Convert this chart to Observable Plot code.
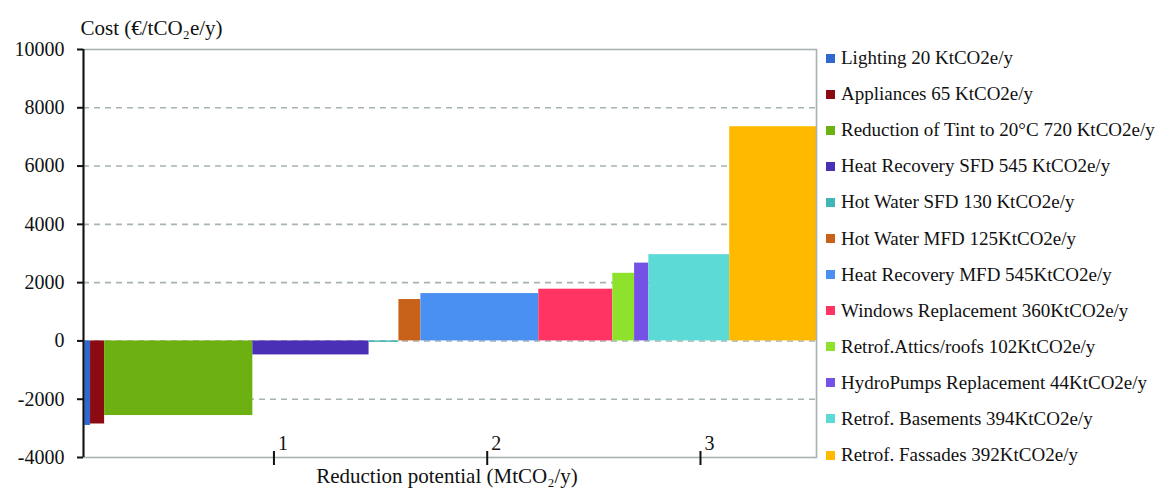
<!DOCTYPE html>
<html>
<head>
<meta charset="utf-8">
<script src="https://cdn.jsdelivr.net/npm/d3@7"></script>
<script src="https://cdn.jsdelivr.net/npm/@observablehq/plot@0.6"></script>
<style>
  html, body { margin: 0; padding: 0; background: #fff; }
  #wrap { position: relative; width: 1166px; height: 495px; font-family: "Liberation Serif", "DejaVu Serif", serif; }
  #chart svg { font-family: "Liberation Serif", "DejaVu Serif", serif !important; }
  #legend { position: absolute; left: 826px; top: 40px; }
  .row { height: 36.1px; display: flex; align-items: center; font-size: 19px; color: #111; white-space: nowrap; }
  .sw { width: 9px; height: 9px; margin-right: 6px; flex: none; }
</style>
</head>
<body>
<div id="wrap"><div id="chart"></div><div id="legend"></div></div>
<script>
// Measures, in drawing order
const measures = [
  "Lighting", "Appliances", "Reduction of Tint to 20°C", "Heat Recovery SFD",
  "Hot Water SFD", "Hot Water MFD", "Heat Recovery MFD", "Windows Replacement",
  "Retrof.Attics/roofs", "HydroPumps Replacement", "Retrof. Basements", "Retrof. Fassades"
];
// Legend labels as printed
const legendLabels = [
  "Lighting 20 KtCO2e/y", "Appliances 65 KtCO2e/y", "Reduction of Tint to 20°C 720 KtCO2e/y",
  "Heat Recovery SFD 545 KtCO2e/y", "Hot Water SFD  130 KtCO2e/y", "Hot Water MFD 125KtCO2e/y",
  "Heat Recovery MFD 545KtCO2e/y", "Windows Replacement 360KtCO2e/y", "Retrof.Attics/roofs 102KtCO2e/y",
  "HydroPumps Replacement 44KtCO2e/y", "Retrof. Basements 394KtCO2e/y", "Retrof. Fassades 392KtCO2e/y"
];
// Bar widths as drawn in the picture (MtCO2/y)
const widthMt = [0.033, 0.066, 0.695, 0.545, 0.140, 0.103, 0.553, 0.347, 0.102, 0.067, 0.379, 0.407];
// Cost (€/tCO2e/y) -> bar heights
const cost = [-2900, -2850, -2560, -480, -50, 1420, 1625, 1775, 2320, 2670, 2960, 7350];
const colors = ["#3168d0", "#8c0a12", "#6cb012", "#4a30b4", "#40b6b8", "#c8621a",
                "#4a90f2", "#ff3462", "#8ee22c", "#7452e6", "#5cdad6", "#ffba00"];
// Axis
const xOriginMt = 0.107;          // where the curve starts on the drawn x axis
const xTicks = [1, 2, 3];
const yTicks = [-4000, -2000, 0, 2000, 4000, 6000, 8000, 10000];

// Build table of bars
let acc = xOriginMt;
const bars = measures.map((m, i) => {
  const x1 = acc;
  acc += widthMt[i];
  return {measure: m, x1, x2: acc, cost: cost[i], color: colors[i]};
});
const xEnd = acc;
const yMin = yTicks[0], yMax = yTicks[yTicks.length - 1];

const font = "Liberation Serif";
const plot = Plot.plot({
  width: 1166,
  height: 495,
  marginLeft: 83,
  marginRight: 350,
  marginTop: 49,
  marginBottom: 38,
  style: {fontFamily: font, fontSize: "20px", color: "#111", background: "#fff"},
  x: {domain: [xOriginMt, xEnd], axis: null},
  y: {domain: [yMin, yMax], axis: null},
  marks: [
    Plot.ruleY(yTicks.filter(t => t > yMin && t < yMax), {stroke: "#a7b3b3", strokeWidth: 1.6, strokeDasharray: "6,5"}),
    Plot.rect(bars, {x1: "x1", x2: "x2", y1: 0, y2: "cost", fill: "color", title: "measure"}),
    Plot.frame({stroke: "#a7b3b3", strokeWidth: 1.6}),
    Plot.ruleX([xOriginMt], {stroke: "#111", strokeWidth: 2}),
    Plot.axisY({ticks: yTicks, tickSize: 6, tickPadding: 13, tickFormat: d => String(d), fontSize: 20, fontFamily: font, label: null, stroke: "#111", strokeWidth: 2, fill: "#111"}),
    Plot.ruleX(xTicks, {x: d => d, y1: yMin, y2: yMin, insetTop: -6, insetBottom: -8, stroke: "#111", strokeWidth: 2}),
    Plot.text(xTicks, {x: d => d, y: yMin, text: d => String(d), dx: 9, dy: -14, fontSize: 20, fontFamily: font, fill: "#111"}),
    Plot.text(["Cost (€/tCO₂e/y)"], {frameAnchor: "top-left", text: d => d, textAnchor: "start", dx: -3, dy: -29, fontSize: 21, fontFamily: font, fill: "#111"}),
    Plot.text(["Reduction potential (MtCO₂/y)"], {frameAnchor: "bottom", text: d => d, dx: -3, dy: 25, fontSize: 21, fontFamily: font, fill: "#111"})
  ]
});
document.getElementById("chart").appendChild(plot);

const legend = d3.select("#legend");
legendLabels.forEach((lab, i) => {
  const row = legend.append("div").attr("class", "row");
  row.append("div").attr("class", "sw").style("background", colors[i]);
  row.append("span").text(lab);
});
</script>
</body>
</html>
